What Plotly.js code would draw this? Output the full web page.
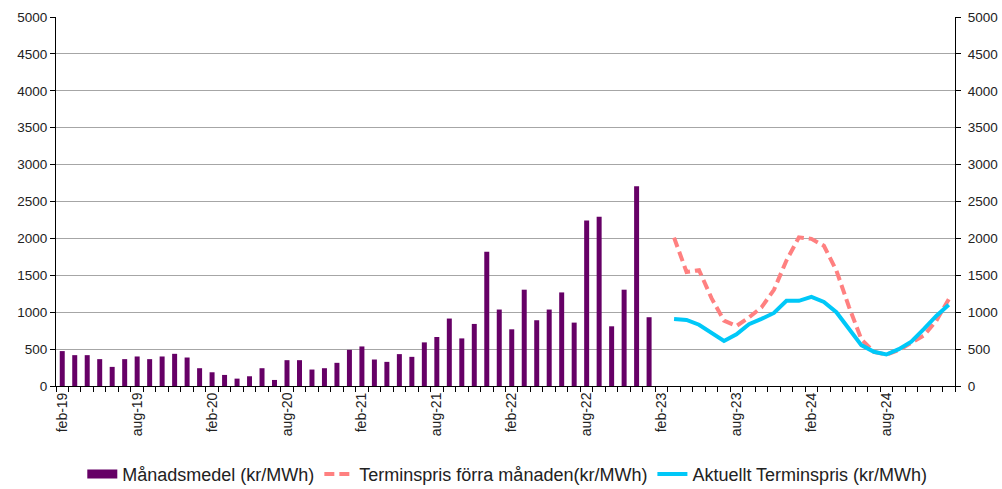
<!DOCTYPE html>
<html>
<head>
<meta charset="utf-8">
<script src="https://cdn.plot.ly/plotly-3.0.1.min.js"></script>
<style>html,body{margin:0;padding:0;background:#fff;}#chart{width:1002px;height:489px;}</style>
</head>
<body>
<div id="chart"></div>
<script>
const months = [
 'feb-19','mar-19','apr-19','maj-19','jun-19','jul-19','aug-19','sep-19','okt-19','nov-19','dec-19','jan-20',
 'feb-20','mar-20','apr-20','maj-20','jun-20','jul-20','aug-20','sep-20','okt-20','nov-20','dec-20','jan-21',
 'feb-21','mar-21','apr-21','maj-21','jun-21','jul-21','aug-21','sep-21','okt-21','nov-21','dec-21','jan-22',
 'feb-22','mar-22','apr-22','maj-22','jun-22','jul-22','aug-22','sep-22','okt-22','nov-22','dec-22','jan-23',
 'feb-23','mar-23','apr-23','maj-23','jun-23','jul-23','aug-23','sep-23','okt-23','nov-23','dec-23','jan-24',
 'feb-24','mar-24','apr-24','maj-24','jun-24','jul-24','aug-24','sep-24','okt-24','nov-24','dec-24','jan-25'
];
const shownTicks = ['feb-19','aug-19','feb-20','aug-20','feb-21','aug-21','feb-22','aug-22','feb-23','aug-23','feb-24','aug-24'];

const barMonths = [
 'feb-19','mar-19','apr-19','maj-19','jun-19','jul-19','aug-19','sep-19','okt-19','nov-19','dec-19','jan-20',
 'feb-20','mar-20','apr-20','maj-20','jun-20','jul-20','aug-20','sep-20','okt-20','nov-20','dec-20','jan-21',
 'feb-21','mar-21','apr-21','maj-21','jun-21','jul-21','aug-21','sep-21','okt-21','nov-21','dec-21','jan-22',
 'feb-22','mar-22','apr-22','maj-22','jun-22','jul-22','aug-22','sep-22','okt-22','nov-22','dec-22','jan-23'
];
const manadsmedel = [
 473,418,418,364,259,364,400,364,400,436,386,241,
 186,150,100,132,241,82,350,350,223,241,314,490,
 536,359,327,432,395,591,664,914,645,841,1818,1036,
 768,1305,891,1036,1268,859,2241,2295,809,1305,2705,932
];

const lineMonths = [
 'mar-23','apr-23','maj-23','jun-23','jul-23','aug-23','sep-23','okt-23','nov-23','dec-23','jan-24',
 'feb-24','mar-24','apr-24','maj-24','jun-24','jul-24','aug-24','sep-24','okt-24','nov-24','dec-24','jan-25'
];
const terminsprisForra = [2010,1545,1570,1190,885,813,930,1065,1303,1700,2015,1994,1900,1565,1076,634,463,425,486,577,683,884,1177];
const aktuelltTermin = [908,895,830,718,610,700,838,910,990,1154,1154,1208,1140,1000,782,554,463,427,500,600,770,950,1100];

const names = ['Månadsmedel (kr/MWh)','Terminspris förra månaden(kr/MWh)','Aktuellt Terminspris (kr/MWh)'];
const colors = {bar:'#660066', dash:'#ff8080', line:'#00c8f8'};

const traces = [
 {type:'bar', x:barMonths, y:manadsmedel, name:names[0], marker:{color:colors.bar}, showlegend:false, yaxis:'y'},
 {type:'scatter', mode:'lines', x:[null], y:[null], name:names[0], line:{color:colors.bar, width:9}, yaxis:'y', hoverinfo:'skip'},
 {type:'scatter', mode:'lines', x:lineMonths, y:terminsprisForra, name:names[1], line:{color:colors.dash, width:4, dash:'10px,5px', shape:'linear'}, yaxis:'y2'},
 {type:'scatter', mode:'lines', x:lineMonths, y:aktuelltTermin, name:names[2], line:{color:colors.line, width:4}, yaxis:'y2'}
];

const font = {family:'"Liberation Sans", Arial, sans-serif', color:'#222'};
const yCommon = {range:[0,5000], dtick:500, tick0:0, showline:true, linecolor:'#000', linewidth:1,
  ticks:'outside', ticklen:5, tickcolor:'#000', tickfont:{size:13.5, color:'#222'}, zeroline:false, fixedrange:true, automargin:false};

const layout = {
 width:1002, height:489,
 margin:{l:56, r:47, t:17, b:103, pad:0, autoexpand:false},
 paper_bgcolor:'#fff', plot_bgcolor:'#fff',
 font:font,
 bargap:0.6,
 showlegend:true,
 xaxis:{type:'category', categoryorder:'array', categoryarray:months, range:[-0.5,71.5],
   tickmode:'array', tickvals:months, ticktext:months.map(m => shownTicks.includes(m) ? m : ''),
   tickson:'boundaries', ticks:'outside', ticklen:5, tickcolor:'#000', tickangle:-90,
   tickfont:{size:14, color:'#222'}, showline:true, linecolor:'#000', linewidth:1, showgrid:false, zeroline:false, fixedrange:true, automargin:false},
 yaxis:Object.assign({}, yCommon, {showgrid:true, gridcolor:'#a6a6a6', gridwidth:1}),
 yaxis2:Object.assign({}, yCommon, {overlaying:'y', side:'right', showgrid:false, ticklabelstandoff:4}),
 legend:{orientation:'h', x:0.502, xanchor:'center', yref:'container', y:0.03, yanchor:'middle', font:{size:18, color:'#222'}, traceorder:'normal', itemwidth:30, tracegroupgap:0}
};

Plotly.newPlot('chart', traces, layout, {displayModeBar:false, staticPlot:true});
</script>
</body>
</html>
